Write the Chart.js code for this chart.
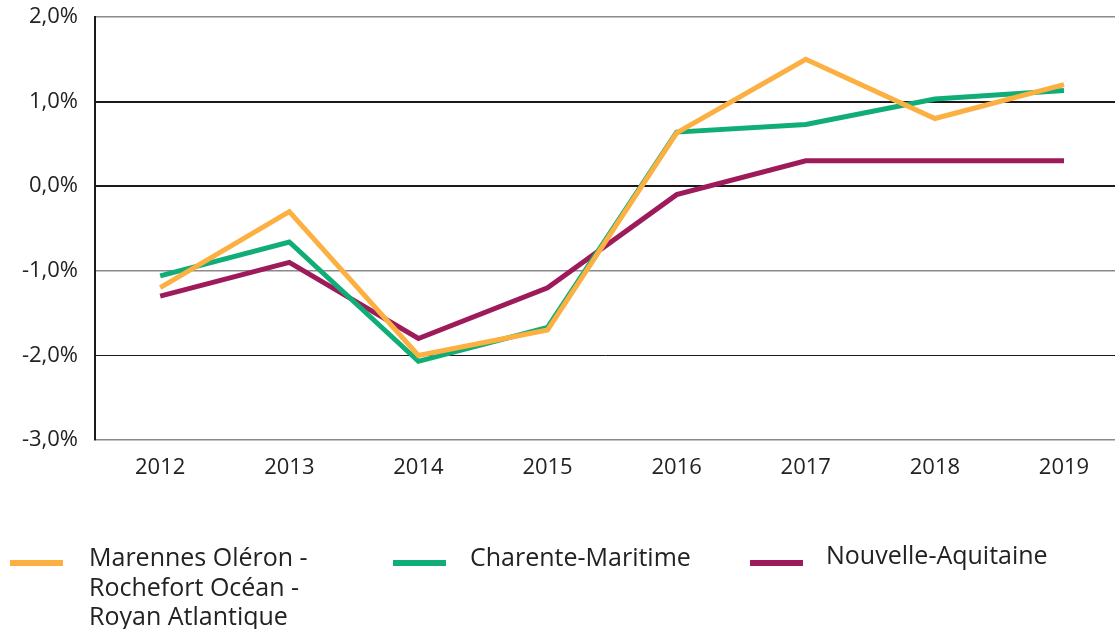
<!DOCTYPE html>
<html lang="fr">
<head>
  <meta charset="utf-8">
  <title>Évolution 2012-2019</title>
  <style type="text/css">
    body {
      margin: 0;
      background-color: #ffffff;
      font-family: 'Open Sans', sans-serif;
    }
    #wrap {
      position: relative;
      width: 1115px;
      height: 629px;
    }
    #graph {
      display: block;
    }
    #legend {
      position: absolute;
      left: 0;
      top: 542px;
      width: 1115px;
      color: #222222;
      font-size: 25px;
      line-height: 29.5px;
    }
    .item {
      position: absolute;
      top: 0;
    }
    .swatch {
      position: absolute;
      top: 18px;
      width: 53px;
      height: 6px;
    }
    .label {
      position: absolute;
      top: 0;
      white-space: nowrap;
    }
  </style>
  <script src="https://cdn.jsdelivr.net/npm/chart.js"></script>
</head>
<body>
  <div id="wrap">
    <canvas id="graph" width="1115" height="629"></canvas>
    <div id="legend"></div>
  </div>
  <script>
    const years = [2012, 2013, 2014, 2015, 2016, 2017, 2018, 2019];
    const marennes = [-1.2, -0.3, -2.0, -1.7, 0.63, 1.5, 0.8, 1.2];
    const charente = [-1.06, -0.66, -2.07, -1.67, 0.64, 0.73, 1.03, 1.13];
    const aquitaine = [-1.3, -0.9, -1.8, -1.2, -0.1, 0.3, 0.3, 0.3];
    const seriesNames = [
      ['Marennes Oléron -', 'Rochefort Océan -', 'Royan Atlantique'],
      ['Charente-Maritime'],
      ['Nouvelle-Aquitaine']
    ];
    const colors = ['#fbb041', '#10ae76', '#9d1b5b'];
    const yTicks = [-3, -2, -1, 0, 1, 2];

    function points(values) {
      return values.map(function (v, i) { return { x: years[i], y: v }; });
    }

    const gridColors = { '2': '#8a8a8a', '1': '#1a1a1a', '0': '#1a1a1a', '-1': '#8a8a8a', '-2': '#1a1a1a', '-3': '#8a8a8a' };
    const gridWidths = { '2': 1.5, '1': 2, '0': 2, '-1': 1.5, '-2': 1, '-3': 1.5 };

    const series = [marennes, charente, aquitaine];
    const datasets = series.map(function (values, i) {
      return {
        label: seriesNames[i].join(' '),
        data: points(values),
        borderColor: colors[i],
        backgroundColor: colors[i],
        borderWidth: 5,
        pointRadius: 0,
        tension: 0,
        borderJoinStyle: 'miter',
        order: i
      };
    });

    const ctx = document.getElementById('graph').getContext('2d');
    new Chart(ctx, {
      type: 'line',
      data: { datasets: datasets },
      options: {
        responsive: false,
        animation: false,
        layout: { padding: { top: 17, right: 0, left: 0, bottom: 0 } },
        plugins: {
          legend: { display: false },
          tooltip: { enabled: false }
        },
        scales: {
          x: {
            type: 'linear',
            min: 2011.495,
            max: 2019.395,
            afterBuildTicks: function (scale) {
              scale.ticks = years.map(function (y) { return { value: y }; });
            },
            afterFit: function (scale) {
              scale.height = 629 - 440;
              scale.paddingLeft = 0;
              scale.paddingRight = 0;
            },
            grid: { display: false, drawTicks: false },
            border: { display: false },
            ticks: {
              padding: 15,
              color: '#222222',
              font: { family: 'Open Sans', size: 22 },
              callback: function (v) { return String(v); }
            }
          },
          y: {
            min: -3,
            max: 2,
            afterBuildTicks: function (scale) {
              scale.ticks = yTicks.map(function (v) { return { value: v }; });
            },
            afterFit: function (scale) {
              scale.width = 95;
              scale.paddingTop = 0;
              scale.paddingBottom = 0;
            },
            grid: {
              drawTicks: false,
              color: function (c) { return gridColors[String(c.tick.value)]; },
              lineWidth: function (c) { return gridWidths[String(c.tick.value)]; }
            },
            border: { display: true, color: '#1a1a1a', width: 2 },
            ticks: {
              padding: 17,
              color: '#222222',
              font: { family: 'Open Sans', size: 22 },
              callback: function (v) { return v.toFixed(1).replace('.', ',') + '%'; }
            }
          }
        }
      }
    });

    // légende HTML (libellés sur plusieurs lignes)
    const legendPos = [
      { swatch: 10, text: 89, top: 0 },
      { swatch: 393, text: 470, top: 0 },
      { swatch: 750, text: 826, top: -2 }
    ];
    const legend = document.getElementById('legend');
    seriesNames.forEach(function (lines, i) {
      const item = document.createElement('div');
      item.className = 'item';
      const sw = document.createElement('div');
      sw.className = 'swatch';
      sw.style.left = legendPos[i].swatch + 'px';
      sw.style.background = colors[i];
      const lab = document.createElement('div');
      lab.className = 'label';
      lab.style.left = legendPos[i].text + 'px';
      lab.style.top = legendPos[i].top + 'px';
      lab.innerHTML = lines.join('<br>');
      item.appendChild(sw);
      item.appendChild(lab);
      legend.appendChild(item);
    });
  </script>
</body>
</html>
